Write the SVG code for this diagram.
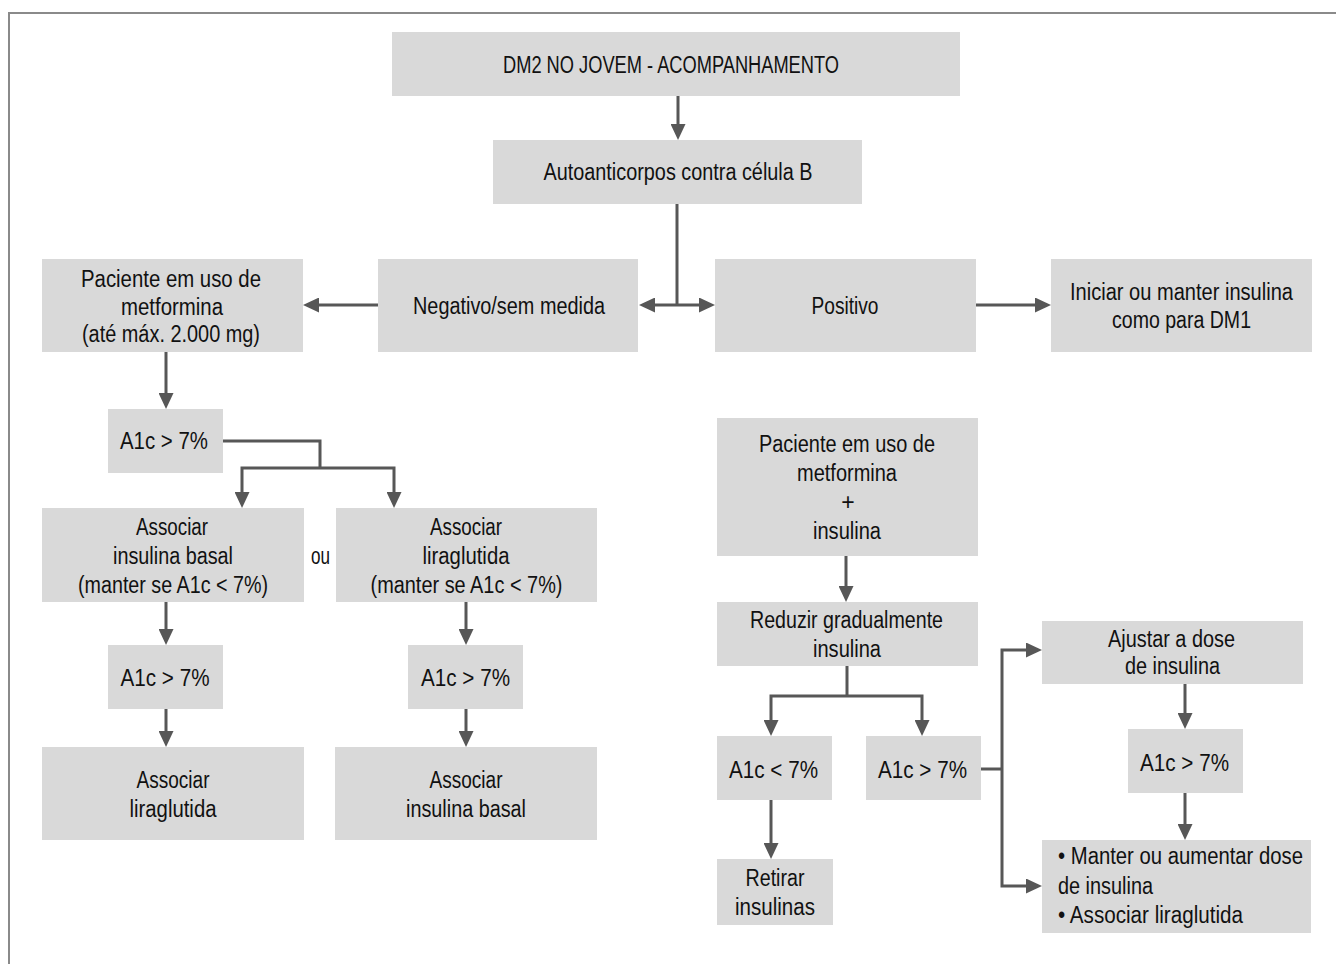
<svg xmlns="http://www.w3.org/2000/svg" width="1336" height="964" viewBox="0 0 1336 964">
  <style>
    .box { fill: #d9d9d9; }
    .t { font-family: "Liberation Sans Narrow", "Liberation Sans", Arial, sans-serif; font-size: 23px; fill: #111111; text-anchor: middle; }
    .l { text-anchor: start; }
    .c { fill: none; stroke: #575757; stroke-width: 3; }
    .a { marker-end: url(#head); }
  </style>
  <defs>
    <marker id="head" markerUnits="userSpaceOnUse" markerWidth="16" markerHeight="15" viewBox="0 0 16 15" refX="6" refY="7.5" orient="auto">
      <path d="M0,0 L16,7.5 L0,15 Z" fill="#575757"/>
    </marker>
  </defs>

  <rect width="1336" height="964" fill="#ffffff"/>
  <!-- frame -->
  <path d="M9,964 V13 H1336" fill="none" stroke="#8a8a8a" stroke-width="2"/>

  <!-- connectors -->
  <g id="connectors">
    <path class="c a" d="M678,96 V130"/>
    <path class="c" d="M677,204 V305"/>
    <path class="c a" d="M677,305 H649"/>
    <path class="c a" d="M677,305 H705"/>
    <path class="c a" d="M378,305 H313"/>
    <path class="c a" d="M976,305 H1041"/>
    <path class="c a" d="M166,352 V399"/>
    <path class="c" d="M223,441 H320 V468"/>
    <path class="c a" d="M320,468 H242 V498"/>
    <path class="c a" d="M320,468 H394 V498"/>
    <path class="c a" d="M166,602 V635"/>
    <path class="c a" d="M166,709 V737"/>
    <path class="c a" d="M466,602 V635"/>
    <path class="c a" d="M466,709 V737"/>
    <path class="c a" d="M846,556 V592"/>
    <path class="c" d="M847,666 V696"/>
    <path class="c a" d="M847,696 H771 V726"/>
    <path class="c a" d="M847,696 H922 V726"/>
    <path class="c a" d="M771,800 V849"/>
    <path class="c" d="M981,769 H1002"/>
    <path class="c a" d="M1002,769 V650 H1032"/>
    <path class="c a" d="M1002,769 V886 H1032"/>
    <path class="c a" d="M1185,684 V719"/>
    <path class="c a" d="M1185,793 V830"/>
  </g>

  <g id="n-title">
    <rect class="box" x="392" y="32" width="568" height="64"/>
    <text class="t" x="671" y="73" textLength="336" lengthAdjust="spacingAndGlyphs">DM2 NO JOVEM - ACOMPANHAMENTO</text>
  </g>

  <g id="n-autoanticorpos">
    <rect class="box" x="493" y="140" width="369" height="64"/>
    <text class="t" x="678" y="180" textLength="269" lengthAdjust="spacingAndGlyphs">Autoanticorpos contra célula B</text>
  </g>

  <g id="n-metformina">
    <rect class="box" x="42" y="259" width="261" height="93"/>
    <text class="t" x="171" y="287" textLength="180" lengthAdjust="spacingAndGlyphs">Paciente em uso de</text>
    <text class="t" x="172" y="315" textLength="102" lengthAdjust="spacingAndGlyphs">metformina</text>
    <text class="t" x="171" y="342" textLength="178" lengthAdjust="spacingAndGlyphs">(até máx. 2.000 mg)</text>
  </g>

  <g id="n-negativo">
    <rect class="box" x="378" y="259" width="260" height="93"/>
    <text class="t" x="509" y="314" textLength="192" lengthAdjust="spacingAndGlyphs">Negativo/sem medida</text>
  </g>

  <g id="n-positivo">
    <rect class="box" x="715" y="259" width="261" height="93"/>
    <text class="t" x="845" y="314" textLength="67" lengthAdjust="spacingAndGlyphs">Positivo</text>
  </g>

  <g id="n-iniciar">
    <rect class="box" x="1051" y="259" width="261" height="93"/>
    <text class="t" x="1181.5" y="300" textLength="223" lengthAdjust="spacingAndGlyphs">Iniciar ou manter insulina</text>
    <text class="t" x="1181.5" y="328" textLength="139" lengthAdjust="spacingAndGlyphs">como para DM1</text>
  </g>

  <g id="n-a1c-1">
    <rect class="box" x="108" y="409" width="115" height="64"/>
    <text class="t" x="164" y="449" textLength="88" lengthAdjust="spacingAndGlyphs">A1c &gt; 7%</text>
  </g>

  <g id="n-assoc-basal">
    <rect class="box" x="42" y="508" width="262" height="94"/>
    <text class="t" x="172" y="535" textLength="72" lengthAdjust="spacingAndGlyphs">Associar</text>
    <text class="t" x="173" y="564" textLength="120" lengthAdjust="spacingAndGlyphs">insulina basal</text>
    <text class="t" x="173" y="593" textLength="190" lengthAdjust="spacingAndGlyphs">(manter se A1c &lt; 7%)</text>
  </g>

  <text class="t" x="320.5" y="564" textLength="19" lengthAdjust="spacingAndGlyphs">ou</text>

  <g id="n-assoc-lira">
    <rect class="box" x="336" y="508" width="261" height="94"/>
    <text class="t" x="466" y="535" textLength="72" lengthAdjust="spacingAndGlyphs">Associar</text>
    <text class="t" x="466" y="564" textLength="87" lengthAdjust="spacingAndGlyphs">liraglutida</text>
    <text class="t" x="466.5" y="593" textLength="192" lengthAdjust="spacingAndGlyphs">(manter se A1c &lt; 7%)</text>
  </g>

  <g id="n-a1c-2">
    <rect class="box" x="108" y="645" width="115" height="64"/>
    <text class="t" x="165" y="686" textLength="89" lengthAdjust="spacingAndGlyphs">A1c &gt; 7%</text>
  </g>

  <g id="n-a1c-3">
    <rect class="box" x="408" y="645" width="115" height="64"/>
    <text class="t" x="465.5" y="686" textLength="89" lengthAdjust="spacingAndGlyphs">A1c &gt; 7%</text>
  </g>

  <g id="n-assoc-lira-2">
    <rect class="box" x="42" y="747" width="262" height="93"/>
    <text class="t" x="173" y="788" textLength="73" lengthAdjust="spacingAndGlyphs">Associar</text>
    <text class="t" x="173" y="817" textLength="87" lengthAdjust="spacingAndGlyphs">liraglutida</text>
  </g>

  <g id="n-assoc-basal-2">
    <rect class="box" x="335" y="747" width="262" height="93"/>
    <text class="t" x="466" y="788" textLength="73" lengthAdjust="spacingAndGlyphs">Associar</text>
    <text class="t" x="466" y="817" textLength="120" lengthAdjust="spacingAndGlyphs">insulina basal</text>
  </g>

  <g id="n-metformina-insulina">
    <rect class="box" x="717" y="418" width="261" height="138"/>
    <text class="t" x="847" y="452" textLength="176" lengthAdjust="spacingAndGlyphs">Paciente em uso de</text>
    <text class="t" x="847" y="481" textLength="100" lengthAdjust="spacingAndGlyphs">metformina</text>
    <text class="t" x="848" y="510">+</text>
    <text class="t" x="847" y="539" textLength="68" lengthAdjust="spacingAndGlyphs">insulina</text>
  </g>

  <g id="n-reduzir">
    <rect class="box" x="717" y="602" width="261" height="64"/>
    <text class="t" x="846.5" y="628" textLength="193" lengthAdjust="spacingAndGlyphs">Reduzir gradualmente</text>
    <text class="t" x="847" y="657" textLength="68" lengthAdjust="spacingAndGlyphs">insulina</text>
  </g>

  <g id="n-a1c-menor">
    <rect class="box" x="717" y="736" width="115" height="64"/>
    <text class="t" x="773.5" y="778" textLength="89" lengthAdjust="spacingAndGlyphs">A1c &lt; 7%</text>
  </g>

  <g id="n-a1c-maior">
    <rect class="box" x="866" y="736" width="115" height="64"/>
    <text class="t" x="922.5" y="778" textLength="89" lengthAdjust="spacingAndGlyphs">A1c &gt; 7%</text>
  </g>

  <g id="n-retirar">
    <rect class="box" x="717" y="859" width="116" height="66"/>
    <text class="t" x="775" y="886" textLength="59" lengthAdjust="spacingAndGlyphs">Retirar</text>
    <text class="t" x="775" y="915" textLength="80" lengthAdjust="spacingAndGlyphs">insulinas</text>
  </g>

  <g id="n-ajustar">
    <rect class="box" x="1042" y="621" width="261" height="63"/>
    <text class="t" x="1171.5" y="647" textLength="127" lengthAdjust="spacingAndGlyphs">Ajustar a dose</text>
    <text class="t" x="1172.5" y="674" textLength="95" lengthAdjust="spacingAndGlyphs">de insulina</text>
  </g>

  <g id="n-a1c-4">
    <rect class="box" x="1128" y="729" width="115" height="64"/>
    <text class="t" x="1184.5" y="771" textLength="89" lengthAdjust="spacingAndGlyphs">A1c &gt; 7%</text>
  </g>

  <g id="n-manter">
    <rect class="box" x="1042" y="840" width="269" height="93"/>
    <text class="t l" x="1058" y="864" textLength="245" lengthAdjust="spacingAndGlyphs">• Manter ou aumentar dose</text>
    <text class="t l" x="1058" y="894" textLength="95" lengthAdjust="spacingAndGlyphs">de insulina</text>
    <text class="t l" x="1058" y="923" textLength="185" lengthAdjust="spacingAndGlyphs">• Associar liraglutida</text>
  </g>
</svg>
